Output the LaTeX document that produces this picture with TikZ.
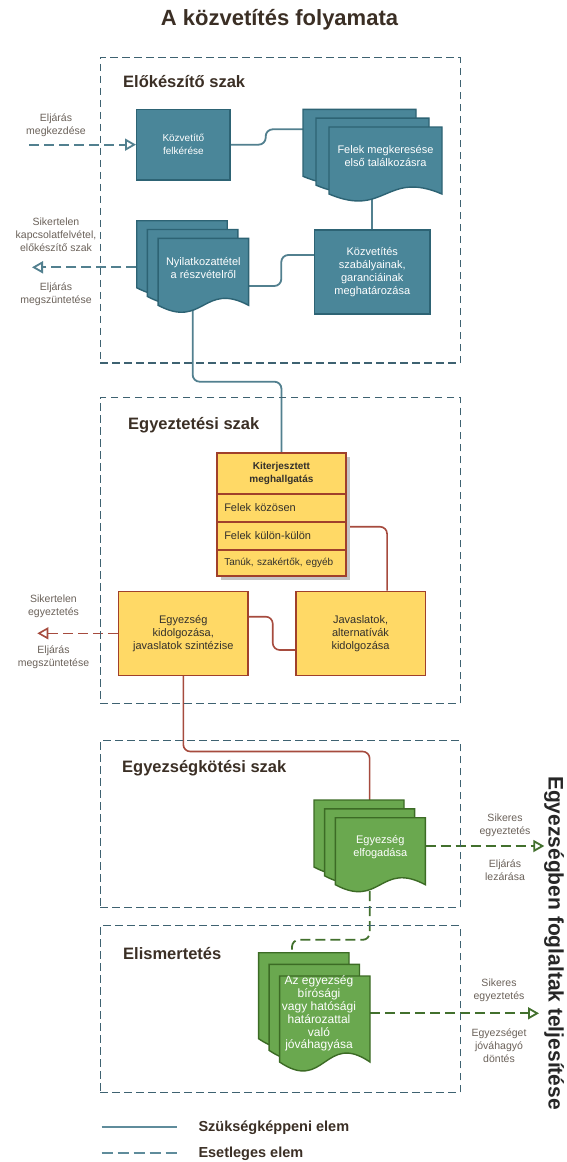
\documentclass[tikz,border=0pt]{standalone}
\usepackage{fontspec}
\setmainfont{Liberation Sans}
\usetikzlibrary{arrows.meta}
\definecolor{tealf}{HTML}{4A8699}
\definecolor{teald}{HTML}{2D6374}
\definecolor{tealc}{HTML}{52808F}
\definecolor{legc}{HTML}{5F8C9B}
\definecolor{phasec}{HTML}{3E6271}
\definecolor{yellf}{HTML}{FFD966}
\definecolor{redd}{HTML}{A0402B}
\definecolor{redc}{HTML}{A64B3E}
\definecolor{greenf}{HTML}{6AA84F}
\definecolor{greend}{HTML}{3C6B25}
\definecolor{greenc}{HTML}{42702D}
\definecolor{brownt}{HTML}{3B2F25}
\definecolor{darkt}{HTML}{33302C}
\definecolor{grayt}{HTML}{6B625A}
\definecolor{shadowc}{HTML}{C4C4C4}
\pgfdeclarelayer{back}\pgfdeclarelayer{conn}\pgfsetlayers{back,conn,main}
% single document shape: style, x, y, w, h (pixel coords, y down)
\newcommand\docshape[5]{\path[#1] ({#2},{#3}) -- ({#2+#4},{#3}) -- ({#2+#4},{#3+#5})
  .. controls ({#2+0.5*#4},{#3+#5-0.36*#5}) and ({#2+0.5*#4},{#3+#5+0.36*#5}) .. ({#2},{#3+#5}) -- cycle;}
% multi document: style, x, y, w, h, dx, dy
\newcommand\mdoc[7]{\docshape{#1}{#2}{#3}{#4}{#5}\docshape{#1}{#2+#6}{#3+#7}{#4}{#5}\docshape{#1}{#2+2*#6}{#3+2*#7}{#4}{#5}}
\begin{document}
\begin{tikzpicture}[x=1pt,y=-1pt,
  tbox/.style={rectangle, draw=teald, fill=tealf, line width=1.4pt, text=white, align=center, inner sep=0pt, font=\fontsize{11}{12.8}\selectfont},
  ybox/.style={rectangle, draw=redd, fill=yellf, line width=1.5pt, text=darkt, align=center, inner sep=0pt, font=\fontsize{11}{13}\selectfont},
  yrow/.style={ybox, anchor=north west, minimum width=129.4pt, text width=114.4pt, inner xsep=7.5pt, align=left},
  tdocs/.style={draw=teald, fill=tealf, line width=1.4pt},
  gdocs/.style={draw=greend, fill=greenf, line width=1.4pt},
  area/.style={rectangle, inner sep=0pt},
  doctxt/.style={text=white, align=center, inner sep=0pt, font=\fontsize{11}{12.8}\selectfont},
  phase/.style={rectangle, draw=phasec, line width=1.4pt, dash pattern=on 7.5pt off 4.5pt, anchor=north west, minimum width=360pt, inner sep=0pt},
  tconn/.style={draw=tealc, line width=1.8pt, rounded corners=7pt},
  rconn/.style={draw=redc, line width=1.6pt, rounded corners=7pt},
  tdash/.style={draw=tealc, line width=1.8pt, dash pattern=on 10pt off 5pt},
  rdash/.style={draw=redc, line width=1.6pt, dash pattern=on 10pt off 5pt},
  gdash/.style={draw=greenc, line width=1.8pt, dash pattern=on 10pt off 5pt, rounded corners=7pt},
  opentip/.style={-{Triangle[open, length=11pt, width=12pt]}},
  lbl/.style={text=grayt, align=center, inner sep=0pt, font=\fontsize{10.5}{13}\selectfont},
  head/.style={text=brownt, anchor=west, inner sep=0pt, font=\bfseries\fontsize{16.5}{20}\selectfont},
  legtxt/.style={text=brownt, anchor=west, inner sep=0pt, font=\bfseries\fontsize{14.5}{17}\selectfont}]
\useasboundingbox (0,0) rectangle (566,1162);
\begin{pgfonlayer}{back}
  \fill[white] (0,0) rectangle (566,1162);
\end{pgfonlayer}

% title and side text
\node[text=brownt, inner sep=0pt, font=\bfseries\fontsize{22}{26}\selectfont] (title) at (279.5,20) {A közvetítés folyamata};
\node[rotate=-90, text=black!85, inner sep=0pt, font=\bfseries\fontsize{21}{24}\selectfont] (side) at (554,943) {Egyezségben foglaltak teljesítése};

% phase frames
\node[phase, minimum height=305.6pt] (ph1) at (99.5,56.7) {};
\node[phase, minimum height=306pt] (ph2) at (99.5,396.7) {};
\node[phase, minimum height=166.7pt] (ph3) at (99.5,740) {};
\node[phase, minimum height=166.7pt] (ph4) at (99.5,925) {};
\node[head] (h1) at (123,81.7) {Előkészítő szak};
\node[head] (h2) at (128,425) {Egyeztetési szak};
\node[head] (h3) at (122,768.3) {Egyezségkötési szak};
\node[head] (h4) at (123,953.3) {Elismertetés};

% ---- Előkészítő szak
\node[tbox, minimum width=93.3pt, minimum height=70.7pt, font=\fontsize{10}{13}\selectfont] (kozvf) at (183.35,144.65) {Közvetítő\\felkérése};

\mdoc{tdocs}{303}{109.3}{113}{67}{13}{8.85}
\node[area, minimum width=139pt, minimum height=92.7pt] (felek) at (372.5,155.65) {};
\node[area, minimum width=113pt, minimum height=67pt] (felekf) at (385.5,160.5) {};
\node[doctxt] (felekt) at (385.5,156) {Felek megkeresése\\első találkozásra};

\node[tbox, minimum width=115.4pt, minimum height=84pt] (kozsz) at (372.3,272) {Közvetítés\\szabályainak,\\garanciáinak\\meghatározása};

\mdoc{tdocs}{136.7}{220.7}{90.5}{67}{10.7}{8.8}
\node[area, minimum width=112pt, minimum height=84.6pt] (nyil) at (192.65,263) {};
\node[area, minimum width=90.5pt, minimum height=67pt] (nyilf) at (203.35,271.8) {};
\node[doctxt] (nyilt) at (203.3,268) {Nyilatkozattétel\\a részvételről};

\node[lbl] (l1) at (56,125.3) {Eljárás\\megkezdése};
\node[lbl] (l2) at (56,235) {Sikertelen\\kapcsolatfelvétel,\\előkészítő szak};
\node[lbl] (l3) at (56,294) {Eljárás\\megszüntetése};
\coordinate (startpt) at (29,144.65);
\coordinate (fail1) at (32,267.3);

% ---- Egyeztetési szak
\fill[shadowc] (220.5,456.8) rectangle (349.9,579.5);
\node[ybox, anchor=north west, minimum width=129.4pt, minimum height=41pt, font=\bfseries\fontsize{10}{12.6}\selectfont] (kit) at (216,452.3) {Kiterjesztett\\meghallgatás};
\node[yrow, minimum height=27.7pt] (kit1) at (216,493.3) {Felek közösen};
\node[yrow, minimum height=28pt] (kit2) at (216,521) {Felek külön-külön};
\node[yrow, minimum height=26pt, font=\fontsize{10}{12}\selectfont] (kit3) at (216,549) {Tanúk, szakértők, egyéb};

\node[ybox, minimum width=129.4pt, minimum height=84pt] (egy) at (183.3,633.3) {Egyezség\\kidolgozása,\\javaslatok szintézise};
\node[ybox, minimum width=129.5pt, minimum height=84pt] (jav) at (360.55,633.3) {Javaslatok,\\alternatívák\\kidolgozása};

\node[lbl] (l4) at (53.5,606.7) {Sikertelen\\egyeztetés};
\node[lbl] (l5) at (53.5,657.2) {Eljárás\\megszüntetése};
\coordinate (fail2) at (37.3,633.3);

% ---- Egyezségkötési szak
\mdoc{gdocs}{314}{800}{90}{67}{10.65}{8.85}
\node[area, minimum width=111.3pt, minimum height=92pt] (elf) at (369.65,846) {};
\node[area, minimum width=90pt, minimum height=67pt] (elff) at (380.3,851.2) {};
\node[doctxt] (elft) at (380.3,847) {Egyezség\\elfogadása};
\node[lbl] (l6) at (505,825.3) {Sikeres\\egyeztetés};
\node[lbl] (l7) at (505,870.5) {Eljárás\\lezárása};
\coordinate (succ1) at (544.3,846);

% ---- Elismertetés
\mdoc{gdocs}{258.6}{952.7}{90.4}{86}{10.5}{11.65}
\node[area, minimum width=111.4pt, minimum height=116.6pt] (elis) at (314.3,1011) {};
\node[area, minimum width=90.4pt, minimum height=86pt] (elisf) at (324.8,1019) {};
\node[doctxt, font=\fontsize{12}{12.9}\selectfont] (elist) at (319,1013.5) {Az egyezség\\bírósági\\vagy hatósági\\határozattal\\való\\jóváhagyása};
\node[lbl] (l8) at (499,990) {Sikeres\\egyeztetés};
\node[lbl] (l9) at (499,1045.3) {Egyezséget\\jóváhagyó\\döntés};
\coordinate (succ2) at (539,1013.3);

% ---- legend
\coordinate (lg1a) at (101.7,1127.3);
\coordinate (lg1b) at (176.7,1127.3);
\coordinate (lg2a) at (101.7,1153.3);
\coordinate (lg2b) at (176.7,1153.3);
\draw[draw=legc, line width=2pt] (lg1a) -- (lg1b);
\draw[draw=legc, line width=2pt, dash pattern=on 11pt off 5pt] (lg2a) -- (lg2b);
\node[legtxt] (lgt1) at (198.3,1127.3) {Szükségképpeni elem};
\node[legtxt] (lgt2) at (198.3,1153.3) {Esetleges elem};

% ---- connectors (behind shapes)
\begin{pgfonlayer}{conn}
  \draw[tdash, opentip] (startpt) -- (kozvf.west);
  \draw[tconn] (kozvf.east) -- ([xshift=35pt]kozvf.east) |- ([yshift=26.35pt]felek.west);
  \draw[tconn] (kozsz.north) -- (kozsz.north |- felek.center);
  \draw[tconn] ([yshift=17pt]kozsz.west) -- ([xshift=-32.6pt,yshift=17pt]kozsz.west) |- ([yshift=-14.2pt]nyilf.east);
  \draw[tdash, opentip] ([yshift=-4.3pt]nyil.west) -- (fail1);
  \draw[tconn] (nyil.center) |- ([yshift=70.6pt]kit.north) -- (kit.north);
  \draw[rconn] ([yshift=9pt]kit2.east) -| ([xshift=26.5pt]jav.north);
  \draw[rconn] ([yshift=16.6pt]egy.east) -- ([xshift=24pt,yshift=16.6pt]egy.east) |- ([yshift=-16.7pt]jav.west);
  \draw[rdash, opentip] (egy.west) -- (fail2);
  \draw[rconn] (egy.south) |- ([yshift=48.3pt]elf.north) -- (elf.north);
  \draw[gdash, opentip] ([yshift=5.2pt]elff.east) -- (succ1);
  \draw[gdash] (elf.center) |- ([xshift=-22.3pt,yshift=12.7pt]elis.north) -- ([xshift=-22.3pt]elis.north);
  \draw[gdash, opentip] ([yshift=5.7pt]elisf.east) -- (succ2);
\end{pgfonlayer}
\end{tikzpicture}
\end{document}
